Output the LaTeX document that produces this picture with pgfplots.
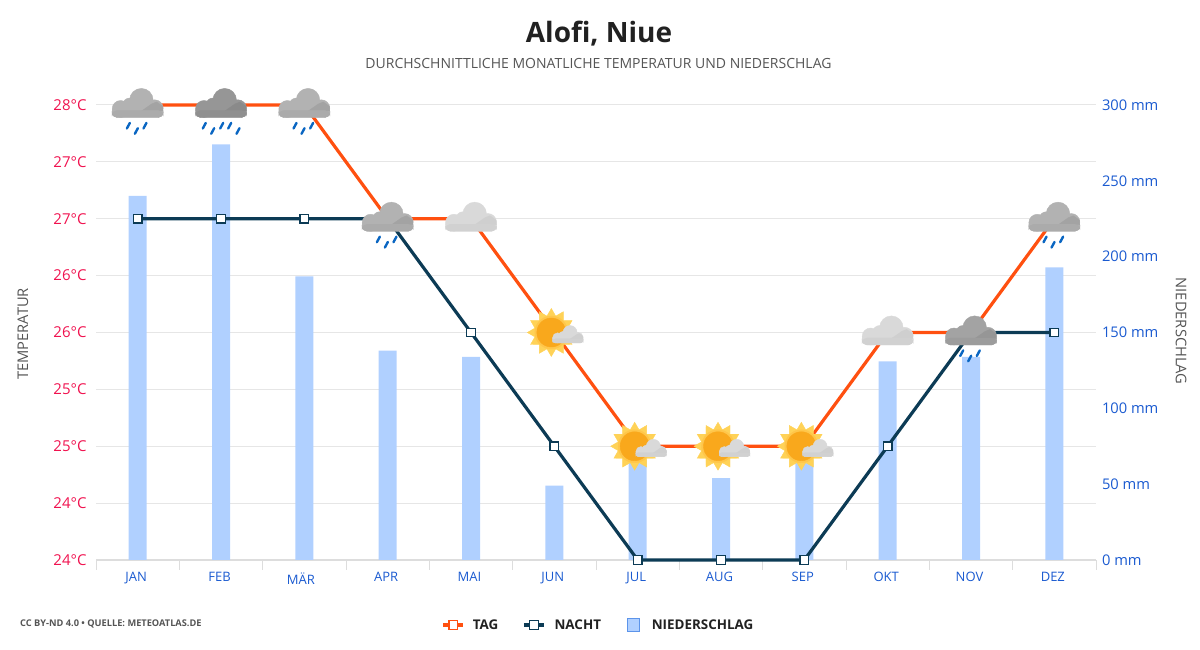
\documentclass[border=0pt]{standalone}
\usepackage{fontspec}
\setmainfont{Open Sans}
\usepackage{pgfplots}
\usepackage{pgfplotstable}
\pgfplotsset{compat=1.18}
\definecolor{tagc}{HTML}{FF5010}
\definecolor{nachtc}{HTML}{0C3B55}
\definecolor{barc}{HTML}{B0D0FF}
\definecolor{barl}{HTML}{5C94EA}
\definecolor{gridc}{HTML}{E6E6E6}
\definecolor{axisc}{HTML}{DDDDDD}
\definecolor{redl}{HTML}{F0124F}
\definecolor{bluel}{HTML}{1A5AD0}
\definecolor{greyt}{HTML}{555555}
\definecolor{dropc}{HTML}{0A66C2}
\definecolor{sunray}{HTML}{FFD257}
\definecolor{suncore}{HTML}{F9A81C}

\pgfplotstableread{
x tag nacht rain
0 28 27 240
1 28 27 274
2 28 27 187
3 27 27 138
4 27 26 134
5 26 25 49
6 25 24 66
7 25 24 54
8 25 24 66
9 26 25 131
10 26 26 134
11 27 26 193
}\climate
\pgfplotstableread{
x y
0 28
2 28
3 27
11 27
}\iconrainthree
\pgfplotstableread{
x y
1 28
}\iconrainfive
\pgfplotstableread{
x y
10 26
}\iconrainnov
\pgfplotstableread{
x y
4 27
9 26
}\iconcloud
\pgfplotstableread{
x y
5 26
6 25
7 25
8 25
}\iconsun

% cloud of about 51 x 29 units: #1 base, #2 shade, #3 lower band, #4 scale, #5/#6 offset
\newcommand\cloudshape[6]{%
  \def\cldS{#4}\def\cldX{#5}\def\cldY{#6}%
  \pgfmathsetmacro\cldR{5*#4}%
  \fill[#1,rounded corners=\cldR pt] ({\cldX+\cldS*(-25.5)},{\cldY+\cldS*(-12.5)}) rectangle ({\cldX+\cldS*25.5},{\cldY+\cldS*(-1)});
  \fill[#1] ({\cldX+\cldS*(-17)},{\cldY+\cldS*(-4)}) circle ({\cldS*8.5});
  \fill[#1] ({\cldX+\cldS*(-8)},{\cldY+\cldS*0}) circle ({\cldS*7});
  \fill[#1] ({\cldX+\cldS*3.7},{\cldY+\cldS*4.8}) circle ({\cldS*11.8});
  \fill[#1] ({\cldX+\cldS*17},{\cldY+\cldS*(-3.3)}) circle ({\cldS*8.5});
  \fill[#2] ({\cldX+\cldS*4},{\cldY+\cldS*(-6)}) -- ({\cldX+\cldS*25.3},{\cldY+\cldS*(-6)}) -- ({\cldX+\cldS*25.2},{\cldY+\cldS*(-1.5)}) -- ({\cldX+\cldS*19},{\cldY+\cldS*3}) -- ({\cldX+\cldS*14},{\cldY+\cldS*1}) -- cycle;
  \fill[#3,rounded corners=\cldR pt] ({\cldX+\cldS*(-25.5)},{\cldY+\cldS*(-12.5)}) rectangle ({\cldX+\cldS*25.5},{\cldY+\cldS*(-5.5)});
}
\newcommand\rainshape[1]{%
  \foreach \dx/\dy in {#1}{%
    \draw[dropc,line width=2.4,line cap=round] (\dx-1.5,\dy-2.8) -- (\dx+1.5,\dy+2.8);
  }
}
\pgfdeclareplotmark{rainA}{%
  \begin{scope}[x=1pt,y=1pt]
  \cloudshape{black!30}{black!36}{black!33}{1}{0}{0}
  \rainshape{-9.3/-20.7,-1.3/-26,7.3/-20.7}
  \end{scope}}
\pgfdeclareplotmark{rainB}{%
  \begin{scope}[x=1pt,y=1pt]
  \cloudshape{black!41}{black!46}{black!44}{1}{0}{0}
  \rainshape{-16.7/-20.7,-8.3/-26,0.7/-20.7,8.7/-20.7,17/-26}
  \end{scope}}
\pgfdeclareplotmark{rainC}{%
  \begin{scope}[x=1pt,y=1pt]
  \cloudshape{black!36}{black!41}{black!39}{1}{0}{0}
  \rainshape{-9.3/-20.7,-1.3/-26,7.3/-20.7}
  \end{scope}}
\pgfdeclareplotmark{cloudL}{%
  \begin{scope}[x=1pt,y=1pt]
  \cloudshape{black!15}{black!19}{black!18}{1}{0}{0}
  \end{scope}}
\pgfdeclareplotmark{sunC}{%
  \begin{scope}[x=1pt,y=1pt]
  \fill[sunray] (21,0)
    \foreach \a in {1,...,23}{ -- ({-3+ifthenelse(mod(\a,2)==0,24,17)*cos(\a*15)},{ifthenelse(mod(\a,2)==0,24,17)*sin(\a*15)}) } -- cycle;
  \fill[sunray!85!orange] (-3,0) circle (16.5);
  \fill[suncore] (-3,0) circle (14.5);
  \cloudshape{black!15}{black!19}{black!18}{0.6}{13.5}{-3}
  \end{scope}}

\pgfplotsset{
  base/.style={
    scale only axis,
    width=1000pt,height=455pt,
    at={(96pt,90pt)},anchor=south west,
    xmin=-0.5,xmax=11.5,
    axis line style={draw=none},
  },
}
\begin{document}
\begin{tikzpicture}[x=1pt,y=1pt]
\useasboundingbox (0,0) rectangle (1200,650);

% temperature scale and grid
\begin{axis}[base,
  ymin=24,ymax=28,
  ytick={24,24.5,25,25.5,26,26.5,27,27.5,28},
  yticklabels={24°C,24°C,25°C,25°C,26°C,26°C,27°C,27°C,28°C},
  ymajorgrids,
  grid style={gridc,line width=1pt},
  y tick style={draw=none},
  yticklabel style={font=\fontsize{15}{15}\selectfont,text=redl,anchor=east,xshift=4pt},
  axis x line*=bottom,
  x axis line style={draw=axisc,line width=1.5pt,-},
  xtick={-0.5,0.5,1.5,2.5,3.5,4.5,5.5,6.5,7.5,8.5,9.5,10.5,11.5},
  xticklabels={},
  x tick style={draw=axisc,line width=1pt},
  major tick length=10pt,
  tick align=outside,
  axis y line*=left,
  y axis line style={draw=none},
  extra x ticks={0,1,2,3,4,5,6,7,8,9,10,11},
  extra x tick labels={JAN,FEB,{\raisebox{-2pt}{MÄR\kern4pt}},APR,MAI,JUN,JUL,AUG,SEP,OKT,NOV,DEZ},
  extra x tick style={major tick length=0pt,
    xticklabel style={font=\fontsize{13}{13}\selectfont,text=bluel,yshift=-9pt,xshift=-1.5pt}},
  ylabel={TEMPERATUR},
  ylabel style={at={(axis description cs:-0.073,0.497)},anchor=center,
    font=\fontsize{14.7}{14.7}\selectfont,text=greyt},
  title={\fontsize{28}{28}\selectfont\bfseries Alofi, Niue},
  title style={at={(axis description cs:0.503,1.144)},anchor=center,text=black!87},
]
\end{axis}

% precipitation bars
\begin{axis}[base,
  ymin=0,ymax=300,
  axis x line=none,
  axis y line*=right,
  y axis line style={draw=none},
  ytick={0,50,100,150,200,250,300},
  yticklabels={0 mm,50 mm,100 mm,150 mm,200 mm,250 mm,300 mm},
  y tick style={draw=none},
  yticklabel style={font=\fontsize{14.7}{14.7}\selectfont,text=bluel,anchor=west,xshift=2.5pt},
  ylabel={NIEDERSCHLAG},
  ylabel style={at={(axis description cs:1.085,0.503)},anchor=center,rotate=180,
    font=\fontsize{14.7}{14.7}\selectfont,text=greyt},
]
\addplot[ybar,bar width=18pt,fill=barc,draw=none] table[x=x,y=rain] {\climate};
\end{axis}

% temperature lines, icons and legend
\begin{axis}[base,
  ymin=24,ymax=28,
  hide axis,
  clip=false,
  legend columns=3,
  legend style={at={(0.5025,-0.143)},anchor=center,draw=none,fill=none,
    font=\fontsize{13.4}{13.4}\selectfont\bfseries,text=black!87,
    inner sep=0pt,
    /tikz/column 1/.style={column sep=6pt},
    /tikz/column 2/.style={column sep=22pt},
    /tikz/column 3/.style={column sep=7pt},
    /tikz/column 4/.style={column sep=24pt},
    /tikz/column 5/.style={column sep=10pt}},
  legend image code/.code={%
    \draw[#1] (0pt,0pt) -- (20pt,0pt);
    \draw[#1,mark repeat=1] plot coordinates {(10pt,0pt)};},
]
\addplot[tagc,line width=3.2pt,mark=square*,mark size=4.3pt,
  mark options={fill=white,draw=tagc,line width=1.2pt,solid}]
  table[x=x,y=tag] {\climate};
\addlegendentry{TAG}
\addplot[nachtc,line width=3.2pt,mark=square*,mark size=4.3pt,
  mark options={fill=white,draw=nachtc,line width=1.2pt,solid}]
  table[x=x,y=nacht] {\climate};
\addlegendentry{NACHT}
\addlegendimage{legend image code/.code={%
    \draw[fill=barc,draw=barl,line width=0.8pt] (0pt,-6.5pt) rectangle (12pt,6.5pt);}}
\addlegendentry{NIEDERSCHLAG}
\addplot[only marks,mark=rainA,forget plot] table {\iconrainthree};
\addplot[only marks,mark=rainB,forget plot] table {\iconrainfive};
\addplot[only marks,mark=rainC,forget plot] table {\iconrainnov};
\addplot[only marks,mark=cloudL,forget plot] table {\iconcloud};
\addplot[only marks,mark=sunC,forget plot] table {\iconsun};
\end{axis}

\node[font=\fontsize{14}{14}\selectfont,text=greyt,anchor=center] at (598.5,586) {DURCHSCHNITTLICHE MONATLICHE TEMPERATUR UND NIEDERSCHLAG};
\node[font=\fontsize{9.25}{9.25}\selectfont\bfseries,text=greyt,anchor=west,inner sep=0pt] at (20,26.5) {CC BY-ND 4.0 • QUELLE: METEOATLAS.DE};
\end{tikzpicture}
\end{document}
